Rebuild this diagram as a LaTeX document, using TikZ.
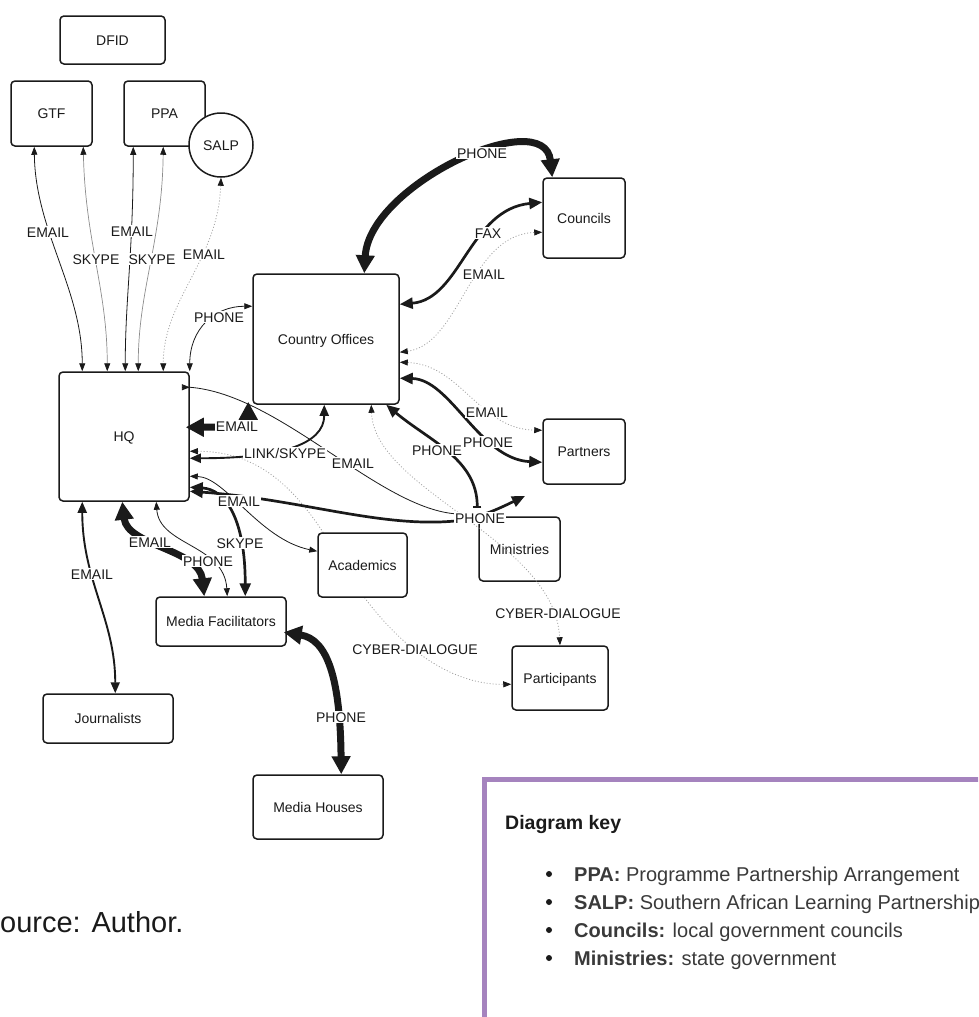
\documentclass[tikz,border=0pt]{standalone}
\usepackage{fontspec}
\setmainfont{Liberation Sans}
\usetikzlibrary{arrows.meta,calc,backgrounds}

\definecolor{ink}{HTML}{1A1A1A}
\definecolor{softgray}{HTML}{8C8C8C}
\definecolor{dotgray}{HTML}{A0A0A0}
\definecolor{keypurple}{HTML}{A583BE}
\definecolor{keytext}{HTML}{3A3A3A}

\tikzset{
  box/.style={draw=ink, line width=1.5pt, rounded corners=4pt, fill=white,
    inner sep=0pt, text=ink, font=\fontsize{14}{16}\selectfont,
    text height=10pt, text depth=0pt},
  lbl/.style={fill=white, inner sep=1pt, text=ink, font=\fontsize{14}{16}\selectfont,
    text height=10pt, text depth=0pt},
  thinlink/.style={draw=ink, line width=0.8pt,
    {Triangle[length=8pt,width=6pt]}-{Triangle[length=8pt,width=6pt]}},
  greylink/.style={draw=softgray, line width=0.7pt,
    {Triangle[length=8pt,width=6pt,color=ink]}-{Triangle[length=8pt,width=6pt,color=ink]}},
  dotlink/.style={draw=dotgray, line width=0.8pt, dash pattern=on 1pt off 2pt,
    {Triangle[length=8pt,width=6pt,color=ink]}-{Triangle[length=8pt,width=6pt,color=ink]}},
  midlink/.style={draw=ink, line width=1.9pt,
    {Triangle[length=11pt,width=9pt]}-{Triangle[length=11pt,width=9pt]}},
  boldlink/.style={draw=ink, line width=2.7pt,
    {Triangle[length=13pt,width=11pt]}-{Triangle[length=13pt,width=11pt]}},
  heavylink/.style={draw=ink, line width=7pt,
    {Triangle[length=18pt,width=18pt]}-{Triangle[length=18pt,width=18pt]}},
  keyline/.style={anchor=base west, inner sep=0pt, text=keytext,
    font=\fontsize{20}{22}\selectfont},
}

\begin{document}
\begin{tikzpicture}[x=1pt,y=-1pt]
\useasboundingbox (0,0) rectangle (978,1017);
\clip (0,0) rectangle (978,1017);

% ---------- organisations ----------
\node[box, minimum width=105pt, minimum height=48pt] (dfid) at (112.5,40) {DFID};
\node[box, minimum width=81pt, minimum height=65pt] (gtf) at (51.5,113.5) {GTF};
\node[box, minimum width=81pt, minimum height=65pt] (ppa) at (164.5,113.5) {PPA};
\node[box, circle, rounded corners=0pt, minimum size=64pt] (salp) at (221,145) {SALP};
\node[box, minimum width=146pt, minimum height=130pt] (co) at (326,339) {Country Offices};
\node[box, minimum width=82pt, minimum height=80pt] (cou) at (584,218) {Councils};
\node[box, minimum width=82pt, minimum height=65pt] (par) at (584,451.5) {Partners};
\node[box, minimum width=130pt, minimum height=129pt] (hq) at (124,436.5) {HQ};
\node[box, minimum width=89pt, minimum height=64pt] (aca) at (362.5,565) {Academics};
\node[box, minimum width=130pt, minimum height=49pt] (mf) at (221,621.5) {Media Facilitators};
\node[box, minimum width=81pt, minimum height=64pt] (min) at (519.5,549) {Ministries};
\node[box, minimum width=96pt, minimum height=64pt] (pat) at (560,678) {Participants};
\node[box, minimum width=130pt, minimum height=49pt] (jou) at (108,718.5) {Journalists};
\node[box, minimum width=130pt, minimum height=64pt] (mh) at (318,807) {Media Houses};

% free ends of two connectors
\coordinate (emailEnd) at (458,514);
\coordinate (phoneEnd) at (525,496);

% ---------- connector passing behind Academics ----------
\begin{pgfonlayer}{background}
\draw[dotlink] ($(hq.north east)+(0,80)$) .. controls +(71,0) and (300,490) .. (340,560)
  .. controls (380,630) and (440,685) .. ($(pat.north west)+(0,39)$);
\end{pgfonlayer}

% ---------- funders ----------
\draw[thinlink] ($(gtf.south west)+(24,0)$) .. controls +(1,84) and +(0,-82) .. ($(hq.north west)+(24,0)$);
\draw[greylink] ($(gtf.south west)+(73,0)$) .. controls +(2,94) and +(0,-82) .. ($(hq.north west)+(49,0)$);
\draw[thinlink] ($(ppa.south west)+(10,0)$) .. controls +(0,104) and +(0,-72) .. ($(hq.north west)+(67,0)$);
\draw[greylink] ($(ppa.south west)+(40,0)$) .. controls +(-1,94) and +(0,-82) .. ($(hq.north west)+(80,0)$);
\draw[dotlink] (salp.south) .. controls +(-3,83) and +(0,-72) .. ($(hq.north west)+(105,0)$);

% ---------- HQ and Country Offices ----------
\draw[thinlink] (hq.north east) .. controls +(0,-42) and +(-38,0) .. ($(co.north west)+(0,33)$);
\draw[heavylink] ($(hq.north east)+(-4,56)$) .. controls +(46,0) and +(0,22) .. ($(co.south west)+(-4,-3)$);
\draw[midlink] ($(hq.north east)+(0,87)$) .. controls +(90,0) and +(0,40) .. ($(co.south west)+(72,0)$);
\draw[thinlink, -] ($(hq.north east)+(0,16)$) .. controls +(91,7) and +(-78,-4) .. (emailEnd);
\draw[thinlink, -{Triangle[length=8pt,width=6pt]}] ($(hq.north east)+(0,16)$) -- +(0.1,0);

% ---------- Country Offices and local actors ----------
\draw[heavylink] ($(co.north west)+(112,0)$) .. controls +(5,-89) and +(-8,-73) .. ($(cou.north west)+(10,0)$);
\draw[boldlink] ($(co.north east)+(0,31)$) .. controls +(61,-5) and +(-73,7) .. ($(cou.north west)+(0,25)$);
\draw[dotlink] ($(co.north east)+(0,79)$) .. controls +(61,-8) and +(-73,2) .. ($(cou.north west)+(0,55)$);
\draw[dotlink] ($(co.north east)+(0,89)$) .. controls +(61,2) and +(-63,-1) .. ($(par.north west)+(0,12)$);
\draw[boldlink] ($(co.north east)+(0,105)$) .. controls +(51,1) and +(-63,-3) .. ($(par.north west)+(0,44)$);
\draw[boldlink, {Triangle[length=13pt,width=11pt]}-{Bar[width=8pt]}] ($(co.south west)+(134,0)$)
  .. controls +(43,36) and +(0,-49) .. ($(min.north west)+(-1,-8)$);
\draw[dotlink] ($(co.south west)+(119,0)$) .. controls +(3,86) and +(-5,-106) .. (pat.north);

% ---------- HQ and the others ----------
\draw[thinlink] ($(hq.north east)+(0,105)$) .. controls +(36,1) and +(-58,-12) .. ($(aca.north west)+(0,19)$);
\draw[boldlink] ($(hq.north east)+(0,120)$) .. controls +(111,8) and (380,528) .. (455,521)
  .. controls (480,518) and (500,508) .. (phoneEnd);
\draw[boldlink] ($(hq.north east)+(0,116)$) .. controls +(36,2) and +(0,-77) .. ($(mf.north west)+(90,0)$);
\draw[midlink] ($(hq.south west)+(24,0)$) .. controls +(0,79) and +(0,-74) .. ($(jou.north west)+(73,0)$);
\draw[heavylink] ($(hq.south west)+(64,0)$) .. controls +(5,44) and +(-5,-47) .. ($(mf.north west)+(49,0)$);
\draw[thinlink] ($(hq.south west)+(98,0)$) .. controls +(3,44) and +(-3,-52) .. ($(mf.north west)+(72,0)$);
\draw[heavylink] ($(mf.north east)+(-3,36)$) .. controls +(44,7) and +(-1,-95) .. ($(mh.north west)+(89,0)$);

% ---------- connector labels ----------
\node[lbl] (lGtfE) at (48,232) {EMAIL};
\node[lbl] (lGtfS) at (96,259) {SKYPE};
\node[lbl] (lPpaE) at (132,231) {EMAIL};
\node[lbl] (lPpaS) at (152,259) {SKYPE};
\node[lbl] (lSalpE) at (204,254) {EMAIL};
\node[lbl] (lCoP) at (219,317) {PHONE};
\node[lbl] (lCouP) at (482,153) {PHONE};
\node[lbl] (lFax) at (488,233) {FAX};
\node[lbl] (lCouE) at (484,274) {EMAIL};
\node[lbl] (lCoE) at (237,426) {EMAIL};
\node[lbl] (lLink) at (285,453) {LINK/SKYPE};
\node[lbl] (lMinE) at (353,463) {EMAIL};
\node[lbl] (lParE) at (487,412) {EMAIL};
\node[lbl] (lParP) at (488,442) {PHONE};
\node[lbl] (lMinP) at (437,450) {PHONE};
\node[lbl] (lHqP) at (480,518) {PHONE};
\node[lbl] (lAcE) at (239,501) {EMAIL};
\node[lbl] (lMfE) at (150,542) {EMAIL};
\node[lbl] (lMfS) at (240,543) {SKYPE};
\node[lbl] (lMfP) at (208,561) {PHONE};
\node[lbl] (lJoE) at (92,574) {EMAIL};
\node[lbl] (lCyb1) at (415,649) {CYBER-DIALOGUE};
\node[lbl] (lCyb2) at (558,613) {CYBER-DIALOGUE};
\node[lbl] (lMhP) at (341,717) {PHONE};

% ---------- source line ----------
\node[anchor=base west, inner sep=0pt, text=ink, font=\fontsize{29}{32}\selectfont] (src) at (0,932) {ource: Author.};

% ---------- key ----------
\draw[keypurple, line width=5pt] (484.5,1030) -- (484.5,779.5) -- (1000,779.5);
\node[keyline, font=\fontsize{19.5}{22}\selectfont\bfseries, text=ink] (keyhead) at (505,829) {Diagram key};
\node[keyline] (k1) at (574,881) {\textbf{PPA:} Programme Partnership Arrangement};
\node[keyline] (k2) at (574,909) {\textbf{SALP:} Southern African Learning Partnership};
\node[keyline] (k3) at (574,937) {\textbf{Councils:} local government councils};
\node[keyline] (k4) at (574,965) {\textbf{Ministries:} state government};
\foreach \y in {874,902,930,958} \fill[ink] (549,\y) circle (3);
\end{tikzpicture}
\end{document}
